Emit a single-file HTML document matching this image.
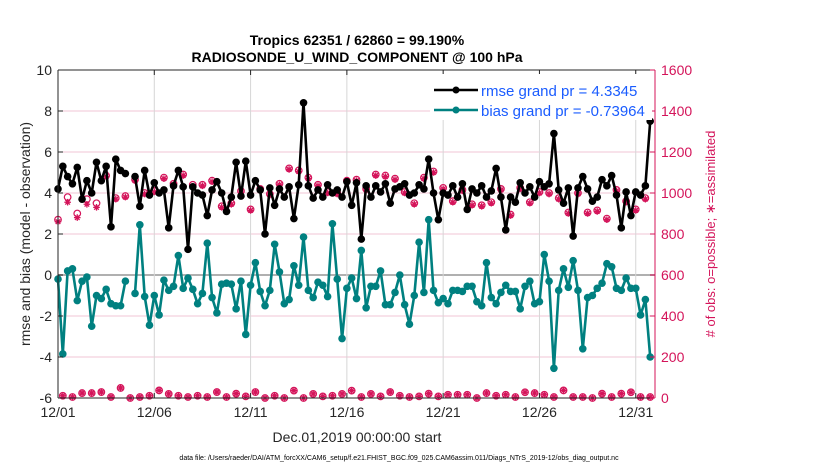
<!DOCTYPE html>
<html><head><meta charset="utf-8"><style>
body{margin:0;background:#fff;}
svg{display:block;font-family:"Liberation Sans",sans-serif;}
</style></head><body>
<svg id="chart" width="830" height="470" viewBox="0 0 830 470">
<g id="grid"></g>
<g id="series"></g>
<g id="axes"></g>
<text x="357" y="45" text-anchor="middle" font-size="14" font-weight="bold">Tropics 62351 / 62860 = 99.190%</text>
<text x="357" y="62" text-anchor="middle" font-size="14" font-weight="bold">RADIOSONDE_U_WIND_COMPONENT @ 100 hPa</text>
<text x="357" y="442" text-anchor="middle" font-size="14" fill="#262626">Dec.01,2019 00:00:00 start</text>
<text x="399" y="460" text-anchor="middle" font-size="7" fill="#000">data file: /Users/raeder/DAI/ATM_forcXX/CAM6_setup/f.e21.FHIST_BGC.f09_025.CAM6assim.011/Diags_NTrS_2019-12/obs_diag_output.nc</text>
<text transform="translate(30,234) rotate(-90)" text-anchor="middle" font-size="14" fill="#262626">rmse and bias (model - observation)</text>
<text transform="translate(715,234) rotate(-90)" text-anchor="middle" font-size="13" fill="#d4145a"># of obs: o=possible; ∗=assimilated</text>
<g id="legend">
<rect x="430" y="74" width="222" height="46" fill="#fff"/>
<line x1="434" y1="90" x2="478" y2="90" stroke="#000" stroke-width="2.5"/>
<circle cx="456" cy="90" r="3.5" fill="#000"/>
<text x="481" y="96" font-size="15" fill="#1a5cff">rmse grand pr = 4.3345</text>
<line x1="434" y1="110" x2="478" y2="110" stroke="#008080" stroke-width="2.5"/>
<circle cx="456" cy="110" r="3.5" fill="#008080"/>
<text x="481" y="116" font-size="15" fill="#1a5cff">bias grand pr = -0.73964</text>
</g>
</svg>
<script>
const rmse=[4.2,5.3,4.8,4.45,5.25,3.7,4.6,4.0,5.5,4.6,5.3,2.35,5.65,5.1,4.95,null,4.8,3.35,5.1,3.9,4.5,4.0,4.15,2.3,4.35,5.1,4.3,1.25,4.3,4.0,3.9,2.9,4.15,4.55,4.0,3.1,3.8,5.5,3.85,5.55,3.9,4.6,4.15,2.0,4.25,3.4,4.2,3.8,4.3,2.75,4.4,8.4,4.35,3.75,4.15,3.8,4.4,4.0,4.15,3.8,4.55,3.4,4.5,1.75,4.35,3.8,4.35,4.05,4.45,3.5,4.2,4.3,4.45,3.9,4.0,4.4,4.2,5.65,4.0,2.7,4.0,3.9,4.35,3.8,4.45,3.2,4.2,4.0,4.35,3.8,4.1,5.2,3.8,2.2,3.8,3.55,4.5,4.0,4.3,3.8,4.55,4.3,4.45,6.9,4.15,3.5,4.25,1.9,4.25,4.8,4.2,3.6,3.8,4.65,4.35,4.85,3.9,2.3,4.05,2.9,4.05,3.9,4.35,7.5];
const bias=[-0.2,-3.85,0.2,0.3,-1.25,-0.3,-0.1,-2.5,-1.0,-1.15,-0.7,-1.4,-1.5,-1.5,-0.3,null,-0.9,2.45,-1.05,-2.45,-1.0,-1.95,-0.25,-0.75,-0.55,0.95,-0.65,-0.15,-0.7,-1.4,-0.9,1.55,-1.1,-1.85,-0.45,-0.4,-0.45,-1.65,-0.3,-2.9,-0.5,0.6,-0.8,-1.5,-0.75,1.5,0.15,-1.4,-1.2,0.45,-0.5,1.85,-0.75,-1.1,-0.35,-0.5,-1.05,2.5,-0.2,-3.1,-0.65,-0.15,-1.15,1.2,-1.6,-0.55,-0.55,0.2,-1.45,-1.45,-0.85,0,-1.45,-2.4,-1.0,1.6,-0.85,2.7,-0.75,-1.35,-1.15,-1.4,-0.75,-0.75,-0.8,-0.55,-0.55,-1.3,-1.5,0.6,-1.1,-1.4,-0.85,-0.5,-0.8,-0.8,-1.65,-0.55,-0.3,-1.4,-1.3,1.0,-0.3,-4.55,-0.75,0.3,-0.6,0.7,-0.75,-3.6,-1.1,-1.0,-0.65,-0.4,0.55,0.4,-0.65,-0.75,-0.15,-0.65,-0.65,-1.95,-1.2,-4.0];
const nassim=[860,11,955,5,880,24,945,24,930,29,1080,5,970,49,980,0,1060,5,995,11,1005,37,1070,20,1040,11,1085,5,1030,11,1035,5,1055,29,930,5,945,21,1005,8,915,29,1015,0,990,11,1040,0,1115,36,1105,0,1070,20,1035,8,1000,11,995,20,1055,36,1060,5,1015,20,1085,8,1080,29,1065,11,1000,5,945,8,1070,21,1100,8,1020,16,955,16,1010,16,940,0,935,24,950,11,1015,16,890,5,1020,28,950,24,1000,16,995,5,970,37,900,5,995,5,900,0,910,21,870,5,1010,21,955,28,915,5,970,5];
const nposs=[870,11,980,5,900,24,970,24,950,29,1085,5,975,49,985,0,1065,5,1000,11,1010,37,1075,20,1045,11,1090,5,1040,11,1040,5,1060,29,935,5,950,21,1010,8,920,29,1020,0,995,11,1045,0,1120,36,1110,0,1075,20,1040,8,1005,11,1000,20,1060,36,1065,5,1020,20,1090,8,1085,29,1070,11,1005,5,950,8,1075,21,1105,8,1025,16,960,16,1015,16,945,0,940,24,955,11,1020,16,895,5,1025,28,955,24,1005,16,1000,5,975,37,905,5,1000,5,905,0,915,21,875,5,1015,21,960,28,920,5,975,5];
const yTicks=[-6,-4,-2,0,2,4,6,8,10];
const rTicks=[0,200,400,600,800,1000,1200,1400,1600];
const xTickDays=[0,5,10,15,20,25,30];
const xTickLabels=["12/01","12/06","12/11","12/16","12/21","12/26","12/31"];

const NS="http://www.w3.org/2000/svg";
const L=58,R=655,T=70,B=398,DAYS=31;
const xs=d=>L+(d/DAYS)*(R-L);
const xi=i=>xs(i*0.25);
const yl=v=>B-(v+6)/16*(B-T);
const yr=v=>B-v/1600*(B-T);
function mk(tag,attrs,parent){const e=document.createElementNS(NS,tag);for(const k in attrs)e.setAttribute(k,attrs[k]);parent.appendChild(e);return e;}
const grid=document.getElementById('grid'),axes=document.getElementById('axes'),ser=document.getElementById('series');

mk('rect',{x:L,y:T,width:R-L,height:B-T,fill:'#fff'},grid);
yTicks.forEach(v=>{if(v===-6||v===10)return;
 const g=mk('line',{x1:L,x2:R,y1:yl(v),y2:yl(v),stroke:v===0?'#b0b0b0':'#f2c6d6','stroke-width':v===0?2:1},grid);
 
 });
xTickDays.forEach(d=>{if(d===0)return;
 const g=mk('line',{x1:xs(d),x2:xs(d),y1:T,y2:B,stroke:'#d6d6d6','stroke-width':1},grid);
 
 });

nposs.forEach((v,i)=>{
 const c=mk('circle',{cx:xi(i),cy:yr(v),r:3.3,fill:'none',stroke:'#d4145a','stroke-width':1.2},ser);
 
 });
nassim.forEach((v,i)=>{
 const x=xi(i),y=yr(v);const s=3.3;
 const p=mk('path',{d:`M${x-s},${y}H${x+s}M${x},${y-s}V${y+s}M${x-s*0.7},${y-s*0.7}L${x+s*0.7},${y+s*0.7}M${x-s*0.7},${y+s*0.7}L${x+s*0.7},${y-s*0.7}`,stroke:'#d4145a','stroke-width':1.3},ser);
 
 });

function drawLine(arr,color,name){
 let d='',pen=false;
 arr.forEach((v,i)=>{if(v===null){pen=false;return;}d+=(pen?'L':'M')+xi(i).toFixed(1)+','+yl(v).toFixed(1);pen=true;});
 const p=mk('path',{d:d,fill:'none',stroke:color,'stroke-width':2.6,'stroke-linejoin':'round'},ser);
 
 
 arr.forEach((v,i)=>{if(v===null)return;
  const c=mk('circle',{cx:xi(i),cy:yl(v),r:3.8,fill:color},ser);
  
  });
}
drawLine(bias,'#008080','bias');
drawLine(rmse,'#000000','rmse');

mk('line',{x1:L,x2:L,y1:T,y2:B,stroke:'#262626','stroke-width':1},axes);
mk('line',{x1:L,x2:R,y1:B,y2:B,stroke:'#262626','stroke-width':1},axes);
mk('line',{x1:L,x2:R,y1:T,y2:T,stroke:'#262626','stroke-width':1},axes);
mk('line',{x1:R,x2:R,y1:T,y2:B,stroke:'#d4145a','stroke-width':1},axes);
yTicks.forEach(v=>{
 mk('line',{x1:L,x2:L+5,y1:yl(v),y2:yl(v),stroke:'#262626'},axes);
 const t=mk('text',{x:L-6,y:yl(v)+5,'text-anchor':'end','font-size':14,fill:'#262626'},axes);
 t.textContent=v;
 
 });
rTicks.forEach(v=>{
 mk('line',{x1:R-5,x2:R,y1:yr(v),y2:yr(v),stroke:'#d4145a'},axes);
 const t=mk('text',{x:R+6,y:yr(v)+5,'font-size':14,fill:'#d4145a'},axes);
 t.textContent=v;
 
 });
xTickDays.forEach((d,k)=>{
 mk('line',{x1:xs(d),x2:xs(d),y1:B,y2:B-5,stroke:'#262626'},axes);
 mk('line',{x1:xs(d),x2:xs(d),y1:T,y2:T+5,stroke:'#262626'},axes);
 const t=mk('text',{x:xs(d),y:B+19,'text-anchor':'middle','font-size':14,fill:'#262626'},axes);
 t.textContent=xTickLabels[k];
 
 });
</script>
</body></html>
